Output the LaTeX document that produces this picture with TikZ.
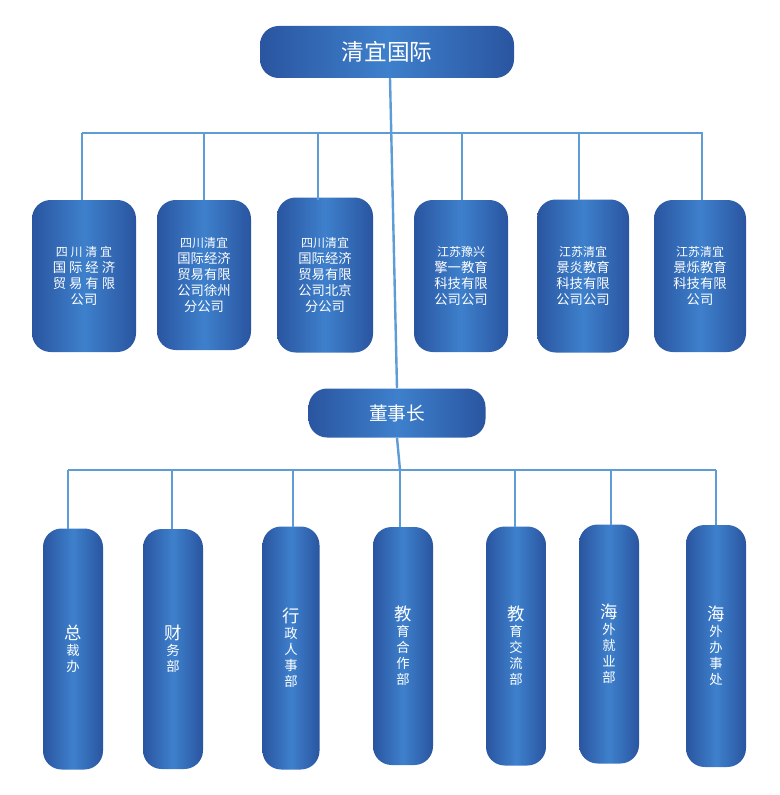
\documentclass[tikz,border=0pt]{standalone}
\usepackage{fontspec}
\newfontfamily\cjk{Noto Sans CJK SC}
\begin{document}
\begin{tikzpicture}[x=0.75pt,y=-0.75pt,
 box/.style={rounded corners=14pt,left color=blue1,right color=blue1,middle color=blue2,draw=none,text=white,font=\cjk,align=center,inner sep=0pt},
 ln/.style={draw=lineblue,line width=1.8pt}]
\definecolor{blue1}{HTML}{2A55A0}
\definecolor{blue2}{HTML}{3E80CC}
\definecolor{lineblue}{HTML}{5E9CD6}
\useasboundingbox (0,0) rectangle (779,795);
\tikzset{bx/.style n args={4}{}}
\newcommand{\bx}[6]{\node[box,minimum width=#4*0.75pt,minimum height=#5*0.75pt] (#1) at (#2,#3) {#6};}
\bx{top}{387}{52}{254}{52}{\fontsize{17}{20}\selectfont 清宜国际}
\bx{a1}{84}{276}{104}{152}{\fontsize{9}{15}\selectfont 四 川 清 宜\\国 际 经 济\\贸 易 有 限\\公司}
\bx{a2}{204}{275}{94}{150}{\fontsize{9}{15}\selectfont 四川清宜\\国际经济\\贸易有限\\公司徐州\\分公司}
\bx{a3}{325}{275}{96}{155}{\fontsize{9}{15}\selectfont 四川清宜\\国际经济\\贸易有限\\公司北京\\分公司}
\bx{a4}{461}{276}{94}{152}{\fontsize{9}{15}\selectfont 江苏豫兴\\擎一教育\\科技有限\\公司公司}
\bx{a5}{583}{276}{92}{153}{\fontsize{9}{15}\selectfont 江苏清宜\\景炎教育\\科技有限\\公司公司}
\bx{a6}{700}{276}{92}{152}{\fontsize{9}{15}\selectfont 江苏清宜\\景烁教育\\科技有限\\公司}
\bx{ceo}{397}{413}{177}{49}{\fontsize{14}{16}\selectfont 董事长}
\bx{b1}{73}{649}{60}{241}{\fontsize{13}{22}\selectfont 总\\裁\\办}
\bx{b2}{173}{649}{60}{240}{\fontsize{13}{22}\selectfont 财\\务\\部}
\bx{b3}{291}{648}{57}{243}{\fontsize{13}{22}\selectfont 行\\政\\人\\事\\部}
\bx{b4}{403}{646}{60}{238}{\fontsize{13}{22}\selectfont 教\\育\\合\\作\\部}
\bx{b5}{516}{646}{60}{239}{\fontsize{13}{22}\selectfont 教\\育\\交\\流\\部}
\bx{b6}{609}{644}{60}{239}{\fontsize{13}{22}\selectfont 海\\外\\就\\业\\部}
\bx{b7}{716}{646}{60}{242}{\fontsize{13}{22}\selectfont 海\\外\\办\\事\\处}
\coordinate (h1) at (82,133); \coordinate (h2) at (703,133);
\draw[ln] (h1) -- (h2);
\draw[ln] (390,78) coordinate (t0) -- (ceo.north);
\foreach \n/\x in {a1/82,a2/204,a3/318,a4/462,a5/579,a6/702}
  \draw[ln] (\x,133) -- (\x,200);
\coordinate (g1) at (68,470); \coordinate (g2) at (716,470);
\draw[ln] (g1) -- (g2);
\draw[ln] (ceo.south) -- (400,470);
\foreach \n/\x/\y in {b1/68/529,b2/172/529,b3/293/527,b4/400/527,b5/515/527,b6/611/525,b7/716/525}
  \draw[ln] (\x,470) -- (\x,\y);
\end{tikzpicture}
\end{document}
